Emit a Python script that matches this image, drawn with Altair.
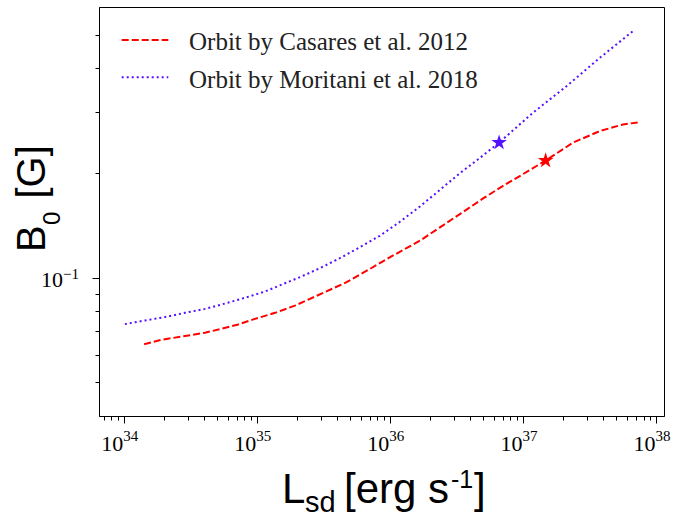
import altair as alt
import pandas as pd

# ---- data ----
red_L = [1.41e34, 1.91e34, 2.86e34, 4.04e34, 5.39e34, 7.18e34, 9.59e34, 1.36e35, 1.92e35,
         3.13e35, 4.69e35, 7.02e35, 1.05e36, 1.67e36, 2.36e36, 3.33e36, 4.98e36, 7.04e36,
         9.95e36, 1.47e37, 2.36e37, 3.75e37, 5.61e37, 7.28e37]
red_B = [0.0643, 0.0663, 0.0679, 0.0694, 0.0713, 0.0733, 0.0761, 0.0792, 0.0831,
         0.0904, 0.0970, 0.1059, 0.1158, 0.1277, 0.1395, 0.1523, 0.1689, 0.1836,
         0.1985, 0.2171, 0.2444, 0.2638, 0.2757, 0.2795]

blue_L = [1.01e34, 1.43e34, 2.02e34, 2.86e34, 4.04e34, 5.71e34, 8.07e34, 1.14e35, 1.86e35,
          2.09e35, 2.95e35, 4.17e35, 5.90e35, 8.34e35, 1.18e36, 1.67e36, 2.36e36, 3.33e36,
          4.57e36, 6.57e36, 1.18e37, 2.11e37, 3.75e37, 6.87e37]
blue_B = [0.0735, 0.0753, 0.0770, 0.0792, 0.0813, 0.0842, 0.0875, 0.0912, 0.0985,
          0.1003, 0.1064, 0.1137, 0.1223, 0.1319, 0.1447, 0.1602, 0.1788, 0.1996,
          0.2189, 0.2444, 0.2979, 0.3552, 0.4284, 0.5164]

star_L = [1.47e37, 6.57e36]
star_B = [0.2171, 0.2444]
star_series = ["Casares", "Moritani"]

legend_labels = ["Orbit by Casares et al. 2012", "Orbit by Moritani et al. 2018"]

x_decades = [1e34, 1e35, 1e36, 1e37, 1e38]
x_exponents = ["34", "35", "36", "37", "38"]
y_decades = [0.1]
y_exponents = ["\u22121"]

# ---- styling ----
RED = "#ff0000"
BLUE = "#5511ff"
W, H = 565, 409
X_DOMAIN = [10 ** 33.81, 10 ** 38.057]
Y_DOMAIN = [0.04, 0.6]
SERIF = "Liberation Serif"
SANS = "Liberation Sans"
STAR = ("M0,-1L0.2245,-0.309L0.9511,-0.309L0.3633,0.118L0.5878,0.809L0,0.382"
        "L-0.5878,0.809L-0.3633,0.118L-0.9511,-0.309L-0.2245,-0.309Z")

x_ticks = [m * 10.0 ** e for e in range(33, 39) for m in range(1, 10)
           if X_DOMAIN[0] <= m * 10.0 ** e <= X_DOMAIN[1]]
y_ticks = [m * 10.0 ** e for e in (-2, -1) for m in range(1, 10)
           if Y_DOMAIN[0] < m * 10.0 ** e < Y_DOMAIN[1]]

major = "abs(log(datum.value)/LN10 - round(log(datum.value)/LN10)) < 0.001"
tick_size = {"condition": {"test": major, "value": 7}, "value": 4}

xscale = alt.Scale(type="log", domain=X_DOMAIN, nice=False)
yscale = alt.Scale(type="log", domain=Y_DOMAIN, nice=False)
xaxis = alt.Axis(values=x_ticks, labels=False, title=None, grid=False, tickSize=tick_size,
                 orient="bottom",
                 tickColor="black", tickWidth=1, domainColor="black", domainWidth=1)
yaxis = alt.Axis(values=y_ticks, labels=False, title=None, grid=False, tickSize=tick_size,
                 orient="left",
                 tickColor="black", tickWidth=1, domainColor="black", domainWidth=1)


def X(field):
    return alt.X(field, type="quantitative", scale=xscale, axis=xaxis)


def Y(field):
    return alt.Y(field, type="quantitative", scale=yscale, axis=yaxis)


df_red = pd.DataFrame({"L": red_L, "B": red_B})
df_blue = pd.DataFrame({"L": blue_L, "B": blue_B})
df_star = pd.DataFrame({"L": star_L, "B": star_B, "s": star_series})
df_xd = pd.DataFrame({"L": x_decades, "e": x_exponents})
df_yd = pd.DataFrame({"B": y_decades, "e": y_exponents})
one = pd.DataFrame({"k": [0]})

red_line = alt.Chart(df_red).mark_line(color=RED, strokeDash=[7, 3], strokeWidth=2).encode(
    x=X("L"), y=Y("B"))
blue_line = alt.Chart(df_blue).mark_line(color=BLUE, strokeDash=[2, 3.0], strokeWidth=2).encode(
    x=X("L"), y=Y("B"))
stars = alt.Chart(df_star).mark_point(shape=STAR, filled=True, size=270, opacity=1,
                                      strokeWidth=0).encode(
    x=X("L"), y=Y("B"),
    color=alt.Color("s:N", scale=alt.Scale(domain=star_series, range=[RED, BLUE]), legend=None))

# tick labels 10^n
xl10 = alt.Chart(df_xd).mark_text(font=SERIF, fontSize=22, align="right", baseline="alphabetic",
                                  dx=-1, color="black").encode(
    x=X("L"), y=alt.value(H + 35), text=alt.value("10"))
xlexp = alt.Chart(df_xd).mark_text(font=SERIF, fontSize=15, align="left", baseline="alphabetic",
                                   dx=-1, color="black").encode(
    x=X("L"), y=alt.value(H + 25), text="e:N")
yl10 = alt.Chart(df_yd).mark_text(font=SERIF, fontSize=22, align="right", baseline="alphabetic",
                                  dy=9, color="black").encode(
    x=alt.value(-36), y=Y("B"), text=alt.value("10"))
ylexp = alt.Chart(df_yd).mark_text(font=SERIF, fontSize=15, align="left", baseline="alphabetic",
                                   dy=1, color="black").encode(
    x=alt.value(-36), y=Y("B"), text="e:N")

# legend
leg_red = alt.Chart(one).mark_rule(color=RED, strokeDash=[7, 3], strokeWidth=2).encode(
    x=alt.value(22.7), x2=alt.value(69.3), y=alt.value(33))
leg_blue = alt.Chart(one).mark_rule(color=BLUE, strokeDash=[2, 3.0], strokeWidth=2).encode(
    x=alt.value(22.7), x2=alt.value(69.3), y=alt.value(70.3))
leg_t1 = alt.Chart(one).mark_text(font=SERIF, fontSize=25, align="left", baseline="alphabetic",
                                  color="#222222").encode(
    x=alt.value(90), y=alt.value(43), text=alt.value(legend_labels[0]))
leg_t2 = alt.Chart(one).mark_text(font=SERIF, fontSize=25, align="left", baseline="alphabetic",
                                  color="#222222").encode(
    x=alt.value(90), y=alt.value(81.3), text=alt.value(legend_labels[1]))


def title_piece(txt, x, y, size, angle=0):
    kw = dict(font=SANS, fontSize=size, align="left", baseline="alphabetic", color="black")
    if angle:
        kw["angle"] = angle
    return alt.Chart(one).mark_text(**kw).encode(
        x=alt.value(x), y=alt.value(y), text=alt.value(txt))


titles = [
    title_piece("B", -54, 245, 40, 270),
    title_piece("0", -39, 218, 24, 270),
    title_piece("[G]", -54, 191.5, 40, 270),
    title_piece("L", 183, 496, 42),
    title_piece("sd", 206, 505, 29),
    title_piece("[erg s", 245, 496, 42),
    title_piece("-1", 352, 481, 25),
    title_piece("]", 375, 496, 42),
]

chart = alt.layer(
    red_line, blue_line, stars, xl10, xlexp, yl10, ylexp,
    leg_red, leg_blue, leg_t1, leg_t2, *titles
).properties(
    width=W, height=H,
    autosize=alt.AutoSizeParams(type="none"),
    padding={"left": 99, "top": 7, "right": 15, "bottom": 101},
    background="white",
).configure_view(stroke="black", strokeWidth=1)

chart.save("out.html", embed_options={"renderer": "svg", "actions": False})
